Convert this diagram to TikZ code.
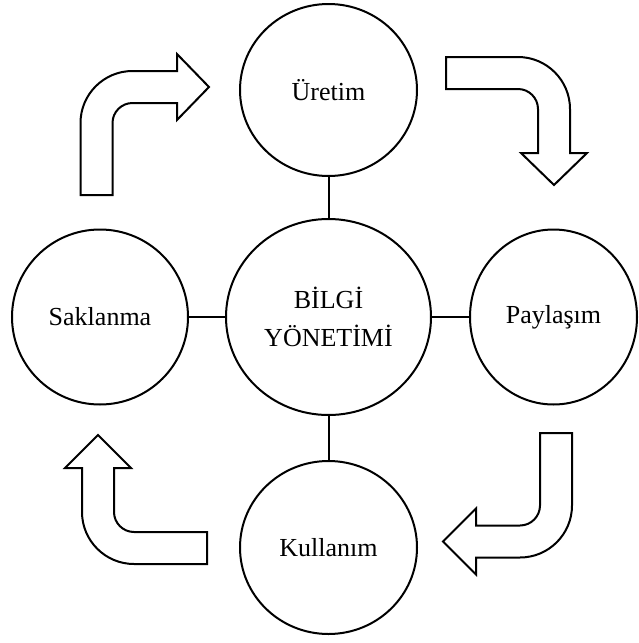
\documentclass[tikz,border=0pt]{standalone}
\usepackage{fontspec}
\setmainfont{Liberation Serif}
\usetikzlibrary{shapes.geometric}
\begin{document}
\begin{tikzpicture}[x=1pt,y=-1pt,
  stage/.style={ellipse,draw,line width=2pt,inner sep=0pt,
    font=\fontsize{26}{38}\selectfont,align=center},
  link/.style={line width=2pt},
  bentarrow/.style={draw,line width=2pt,fill=white,line join=miter}]
\useasboundingbox (0,0) rectangle (638,643);

% central concept and the four stages around it
\node[stage,minimum width=205pt,minimum height=196pt] (cen) at (328.5,317) {BİLGİ\\YÖNETİMİ};
\node[stage,minimum width=177pt,minimum height=172pt] (pro) at (328.5,90) {Üretim};
\node[stage,minimum width=167pt,minimum height=175pt] (share) at (553.5,317) {Paylaşım};
\node[stage,minimum width=177pt,minimum height=173pt] (use) at (328.5,547.5) {Kullanım};
\node[stage,minimum width=176pt,minimum height=175pt] (store) at (100,317) {Saklanma};

% spokes
\draw[link] (pro) -- (cen);
\draw[link] (share) -- (cen);
\draw[link] (use) -- (cen);
\draw[link] (store) -- (cen);

% bent block arrows showing the cycle
\path[bentarrow] (80.5,195) -- (80.5,123) .. controls (80.5,94.3) and (103.8,71) .. (132.5,71)
  -- (177,71) -- (177,54) -- (209,87) -- (177,120) -- (177,103) -- (132.5,103)
  .. controls (121.5,103) and (112.5,112) .. (112.5,123) -- (112.5,195) -- cycle;

\path[bentarrow] (446,57) -- (518,57) .. controls (546.7,57) and (570,80.3) .. (570,109)
  -- (570,153) -- (587,153) -- (554,185) -- (521,153) -- (538,153) -- (538,109)
  .. controls (538,98) and (529,89) .. (518,89) -- (446,89) -- cycle;

\path[bentarrow] (540,433) -- (572,433) -- (572,505.5) .. controls (572,534.2) and (548.7,557.5) .. (520,557.5)
  -- (476,557.5) -- (476,574.5) -- (443,541.5) -- (476,508.5) -- (476,525.5) -- (520,525.5)
  .. controls (531,525.5) and (540,516.5) .. (540,505.5) -- cycle;

\path[bentarrow] (98,435) -- (131,468) -- (114,468) -- (114,512)
  .. controls (114,523) and (123,532) .. (134,532) -- (207,532) -- (207,564) -- (134,564)
  .. controls (105.3,564) and (82,540.7) .. (82,512) -- (82,468) -- (65,468) -- cycle;
\end{tikzpicture}
\end{document}
